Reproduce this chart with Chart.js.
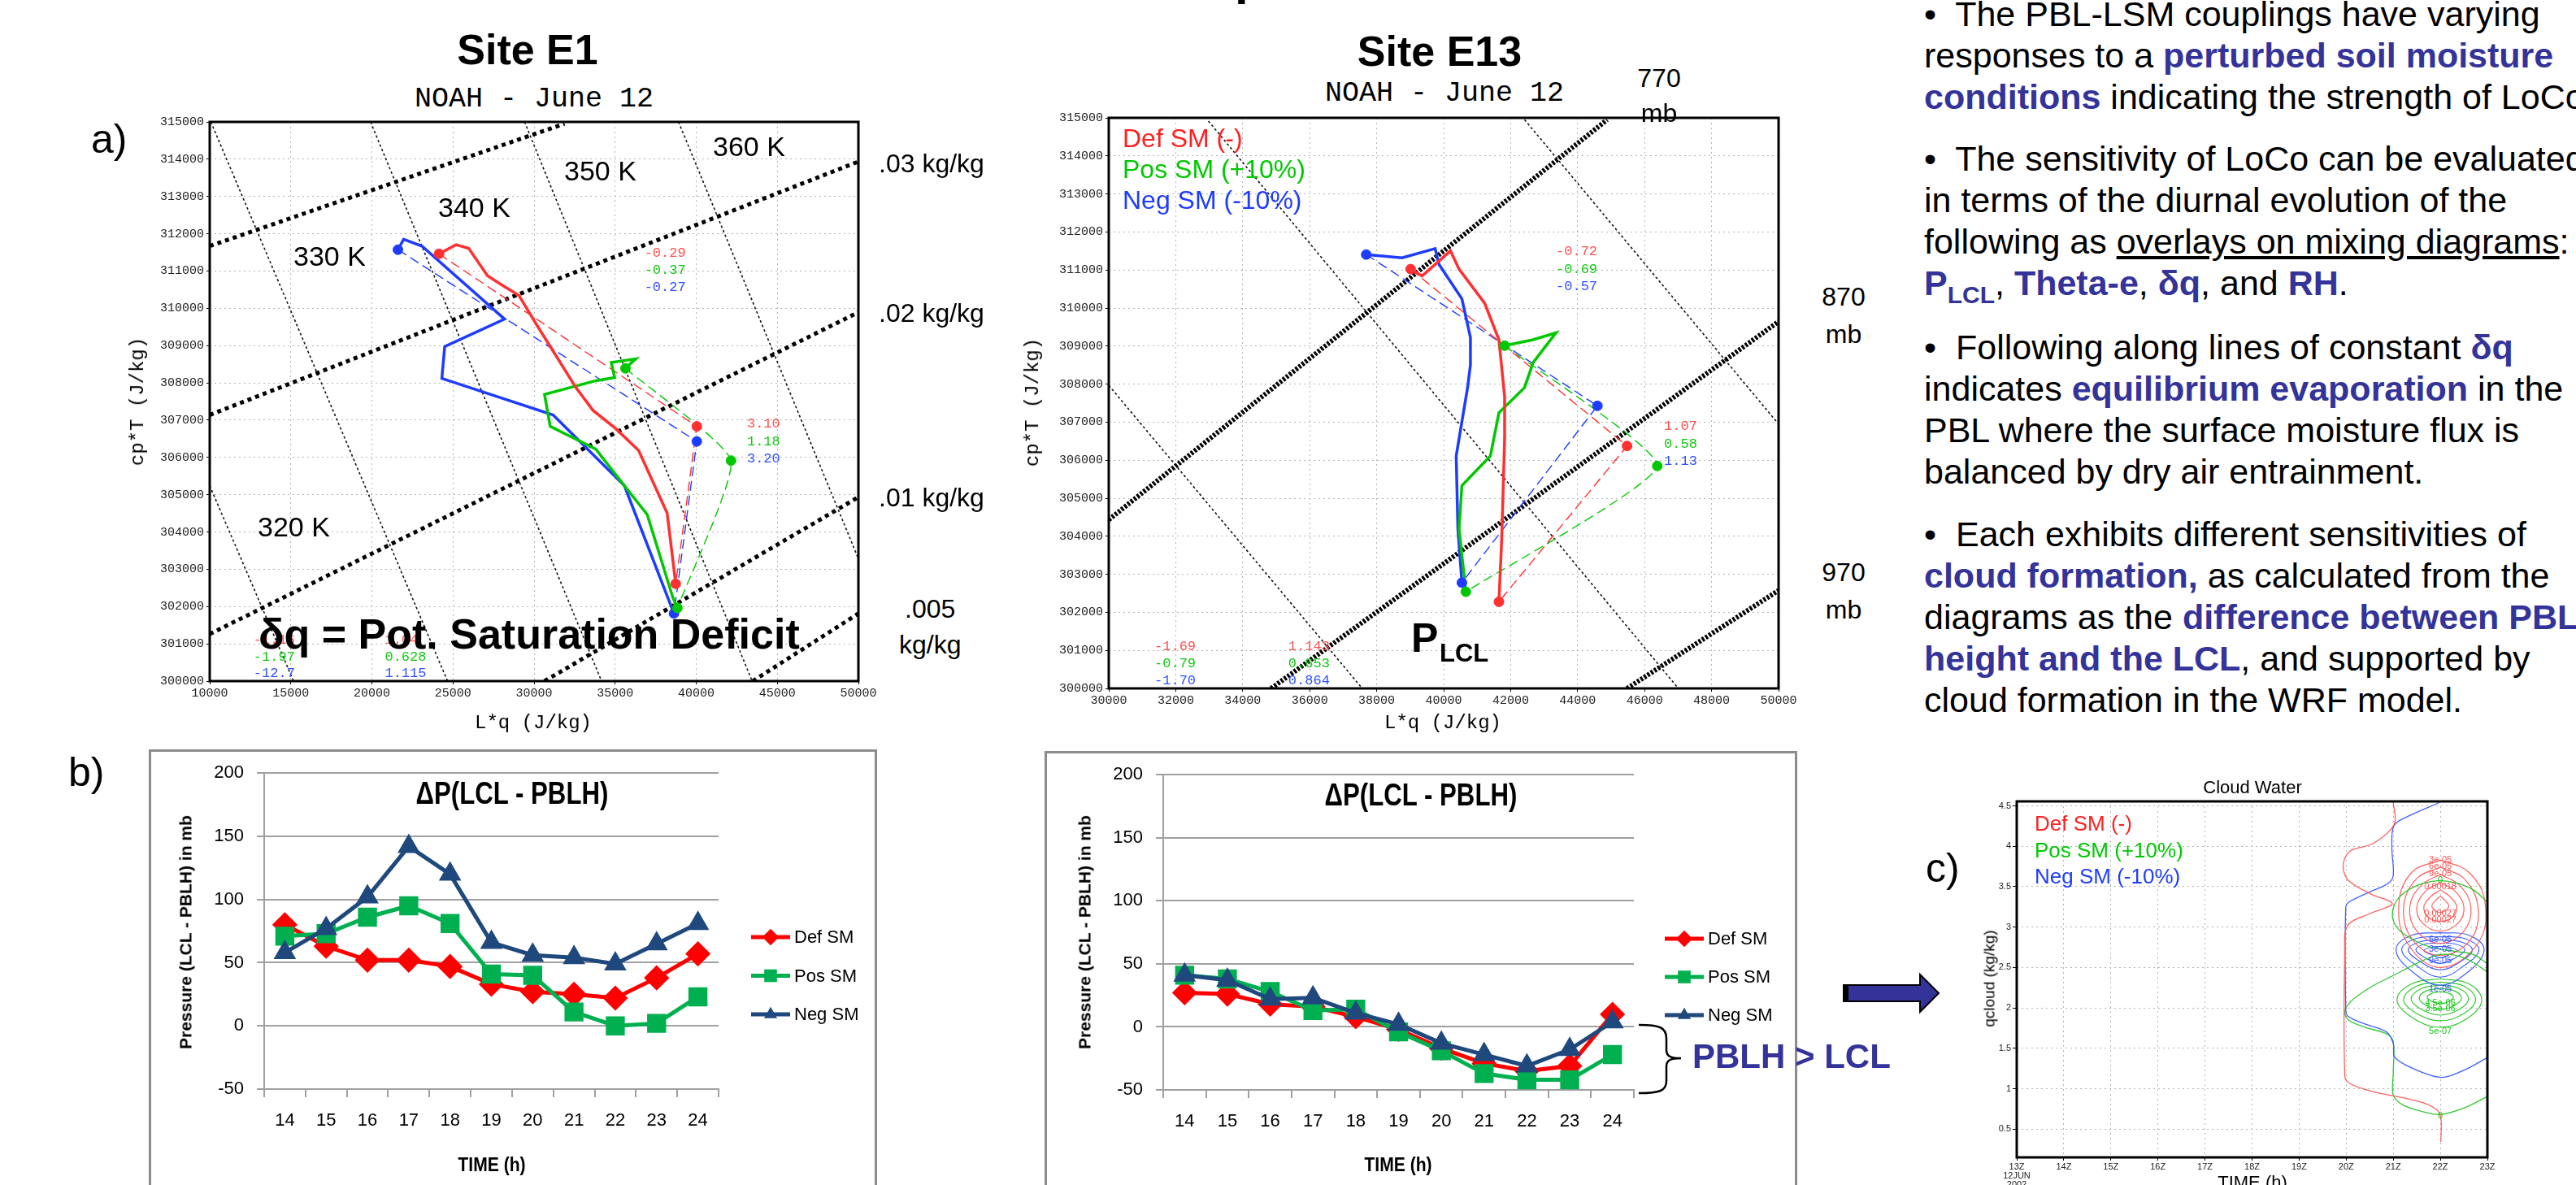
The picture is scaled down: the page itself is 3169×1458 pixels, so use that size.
<!DOCTYPE html>
<html>
<head>
<meta charset="utf-8">
<script src="https://cdn.jsdelivr.net/npm/chart.js@4.4.1/dist/chart.umd.min.js"></script>
<style>
html, body { margin: 0; padding: 0; background: #fff; }
#slide { position: relative; width: 3169px; height: 1458px; overflow: hidden; font-family: "Liberation Sans", Arial, sans-serif; color: #000; }
.t { position: absolute; line-height: 1; white-space: nowrap; }
.c { transform: translateX(-50%); }
.rot { transform: translate(-50%, -50%) rotate(-90deg); }
.mono { font-family: "Liberation Mono", "DejaVu Sans Mono", monospace; }
canvas { position: absolute; }
.box { position: absolute; border: 3px solid #8c8c8c; box-sizing: border-box; }
.para { position: absolute; left: 2367px; font-size: 43px; line-height: 51px; white-space: nowrap; }
.hl { color: #333399; font-weight: bold; }
</style>
</head>
<body>
<div id="slide">
  <!-- top panel texts -->
  <div class="t" style="left:1519px;top:-57px;font-size:60px;font-weight:bold">p</div>
  <div class="t c" style="left:649px;top:35px;font-size:52px;font-weight:bold">Site E1</div>
  <div class="t c" style="left:1771px;top:37px;font-size:52px;font-weight:bold">Site E13</div>
  <div class="t c mono" style="left:657px;top:105px;font-size:35px">NOAH - June 12</div>
  <div class="t c mono" style="left:1777px;top:98px;font-size:35px">NOAH - June 12</div>
  <div class="t" style="left:112px;top:146px;font-size:50px">a)</div>
  <div class="t" style="left:84px;top:925px;font-size:50px">b)</div>
  <div class="t" style="left:2369px;top:1043px;font-size:50px">c)</div>

  <canvas id="e1" width="960" height="800" style="left:140px;top:120px"></canvas>
  <canvas id="e13" width="990" height="800" style="left:1250px;top:120px"></canvas>

  <div class="t" style="left:877px;top:163px;font-size:34px">360 K</div>
  <div class="t" style="left:694px;top:193px;font-size:34px">350 K</div>
  <div class="t" style="left:539px;top:238px;font-size:34px">340 K</div>
  <div class="t" style="left:361px;top:298px;font-size:34px">330 K</div>
  <div class="t" style="left:317px;top:631px;font-size:34px">320 K</div>
  <div class="t" style="left:1081px;top:185px;font-size:32px">.03 kg/kg</div>
  <div class="t" style="left:1081px;top:369px;font-size:32px">.02 kg/kg</div>
  <div class="t" style="left:1081px;top:596px;font-size:32px">.01 kg/kg</div>
  <div class="t" style="left:1113px;top:733px;font-size:32px">.005</div>
  <div class="t" style="left:1106px;top:777px;font-size:32px">kg/kg</div>
  <div class="t" style="left:318px;top:754px;font-size:52px;font-weight:bold">&delta;q = Pot. Saturation Deficit</div>
  <div class="t mono rot" style="left:170px;top:494px;font-size:24px">cp*T (J/kg)</div>
  <div class="t mono rot" style="left:1271px;top:495px;font-size:24px">cp*T (J/kg)</div>
  <div class="t mono c" style="left:656px;top:878px;font-size:24px">L*q (J/kg)</div>
  <div class="t mono c" style="left:1775px;top:878px;font-size:24px">L*q (J/kg)</div>

  <div class="t c" style="left:2041px;top:80px;font-size:32px">770</div>
  <div class="t c" style="left:2041px;top:123px;font-size:32px">mb</div>
  <div class="t c" style="left:2268px;top:349px;font-size:32px">870</div>
  <div class="t c" style="left:2268px;top:395px;font-size:32px">mb</div>
  <div class="t c" style="left:2268px;top:688px;font-size:32px">970</div>
  <div class="t c" style="left:2268px;top:734px;font-size:32px">mb</div>
  <div class="t" style="left:1381px;top:154px;font-size:32px;color:#ff2020">Def SM (-)</div>
  <div class="t" style="left:1381px;top:192px;font-size:32px;color:#00c800">Pos SM (+10%)</div>
  <div class="t" style="left:1381px;top:230px;font-size:32px;color:#1e3cff">Neg SM (-10%)</div>
  <div class="t" style="left:1736px;top:760px;font-size:50px;font-weight:bold">P</div>
  <div class="t" style="left:1771px;top:788px;font-size:31px;font-weight:bold">LCL</div>

  <!-- bullet text -->
  <div class="para" style="top:-8px">&bull;&nbsp; The PBL-LSM couplings have varying<br>responses to a <span class="hl">perturbed soil moisture</span><br><span class="hl">conditions</span> indicating the strength of LoCo</div>
  <div class="para" style="top:170px">&bull;&nbsp; The sensitivity of LoCo can be evaluated<br>in terms of the diurnal evolution of the<br>following as <u>overlays on mixing diagrams</u>:<br><span class="hl">P<sub style="font-size:30px">LCL</sub></span>, <span class="hl">Theta-e</span>, <span class="hl">&delta;q</span>, and <span class="hl">RH</span>.</div>
  <div class="para" style="top:402px">&bull;&nbsp; Following along lines of constant <span class="hl">&delta;q</span><br>indicates <span class="hl">equilibrium evaporation</span> in the<br>PBL where the surface moisture flux is<br>balanced by dry air entrainment.</div>
  <div class="para" style="top:632px">&bull;&nbsp; Each exhibits different sensitivities of<br><span class="hl">cloud formation,</span> as calculated from the<br>diagrams as the <span class="hl">difference between PBL</span><br><span class="hl">height and the LCL</span>, and supported by<br>cloud formation in the WRF model.</div>

  <!-- bottom panels -->
  <div class="box" style="left:183px;top:922px;width:896px;height:560px"></div>
  <div class="box" style="left:1285px;top:924px;width:926px;height:560px"></div>
  <canvas id="dp1" width="896" height="536" style="left:183px;top:922px"></canvas>
  <canvas id="dp2" width="926" height="534" style="left:1285px;top:924px"></canvas>
  <div class="t c" style="left:630px;top:956px;font-size:39px;font-weight:bold;transform:translateX(-50%) scaleX(0.8)">&Delta;P(LCL - PBLH)</div>
  <div class="t c" style="left:1748px;top:958px;font-size:39px;font-weight:bold;transform:translateX(-50%) scaleX(0.8)">&Delta;P(LCL - PBLH)</div>
  <div class="t" style="left:605px;top:1421px;font-size:24px;font-weight:bold;transform:translateX(-50%) scaleX(0.88)">TIME (h)</div>
  <div class="t" style="left:1720px;top:1421px;font-size:24px;font-weight:bold;transform:translateX(-50%) scaleX(0.88)">TIME (h)</div>
  <div class="t rot" style="left:228px;top:1147px;font-size:21px;font-weight:bold">Pressure (LCL - PBLH) in mb</div>
  <div class="t rot" style="left:1334px;top:1147px;font-size:21px;font-weight:bold">Pressure (LCL - PBLH) in mb</div>
  <svg style="position:absolute;left:2012px;top:1258px" width="60" height="92">
    <path d="M4 3 C30 3 38 6 38 20 L38 34 C38 42 44 44 56 44 C44 44 38 46 38 54 L38 72 C38 84 30 87 4 87" fill="none" stroke="#000" stroke-width="2.5"/>
  </svg>
  <div class="t" style="left:2082px;top:1279px;font-size:42px;font-weight:bold;color:#333399">PBLH &gt; LCL</div>
  <svg style="position:absolute;left:2262px;top:1195px" width="126" height="54">
    <polygon points="6,17 100,17 100,4 123,27 100,50 100,37 6,37" fill="#333399" stroke="#000" stroke-width="2"/>
    <rect x="6" y="17" width="6" height="20" fill="#000"/>
  </svg>

  <canvas id="cw" width="769" height="518" style="left:2400px;top:940px"></canvas>
  <div class="t c" style="left:2771px;top:958px;font-size:22px">Cloud Water</div>
  <div class="t rot" style="left:2447px;top:1204px;font-size:19px">qcloud  (kg/kg)</div>
  <div class="t c" style="left:2771px;top:1444px;font-size:22px">TIME (h)</div>
  <div class="t" style="left:2503px;top:1000px;font-size:26px;color:#ff2020">Def SM (-)</div>
  <div class="t" style="left:2503px;top:1033px;font-size:26px;color:#00c800">Pos SM (+10%)</div>
  <div class="t" style="left:2503px;top:1065px;font-size:26px;color:#1e3cff">Neg SM (-10%)</div>
</div>

<script>
// ---- mixing diagram, site E1 : [L*q, cp*T] in J/kg
const e1DefPath = [[24140,311461],[25195,311706],[25968,311608],[27128,310874],[28007,310629],[29062,310347],[30117,309588],[31348,308731],[32579,307874],[33634,307262],[35041,306772],[36448,306184],[38206,304507],[38734,302609]];
const e1DefDash = [[24140,311461],[40035,306833],[38734,302609]];
const e1PosPath = [[38839,301960],[38558,302242],[36975,304470],[35569,305242],[33810,306221],[30996,306833],[30645,307690],[33810,308058],[34971,308143],[34760,308547],[36272,308645],[35675,308413]];
const e1PosDash = [[35639,308388],[42145,305915],[38839,301960]];
const e1NegPath = [[38628,301813],[35569,305242],[31172,307139],[24314,308119],[24490,308976],[28183,309711],[23083,311670],[21958,311853],[21606,311572]];
const e1NegDash = [[21606,311572],[40035,306429],[38628,301813]];
const e1MixLines = [[[10000,311670],[31878,314951]],[[10000,307139],[50000,313935]],[[10000,301262],[50000,309894]],[[30647,300000],[50000,304935]],[[43486,300000],[50000,301812]]];
const e1ThetaLines = [[[10000,305241],[15170,300000]],[[10070,315000],[24665,300000]],[[19918,315000],[34162,300000]],[[29414,315000],[43447,300000]],[[38910,315000],[50000,303283]]];
const e1Notes = [
  { x: 36800, y: 311480, text: '-0.29', color: 'red' }, { x: 36800, y: 311020, text: '-0.37', color: 'green' }, { x: 36800, y: 310560, text: '-0.27', color: 'blue' },
  { x: 43130, y: 306890, text: '3.10', color: 'red' }, { x: 43130, y: 306430, text: '1.18', color: 'green' }, { x: 43130, y: 305970, text: '3.20', color: 'blue' },
  { x: 12700, y: 301110, text: '-1.16', color: 'red' }, { x: 12700, y: 300650, text: '-1.97', color: 'green' }, { x: 12700, y: 300200, text: '-12.7', color: 'blue' },
  { x: 20800, y: 301110, text: '1.04', color: 'red' }, { x: 20800, y: 300650, text: '0.628', color: 'green' }, { x: 20800, y: 300200, text: '1.115', color: 'blue' }];

// ---- mixing diagram, site E13
const e13DefPath = [[39014,311023],[39354,310843],[40204,311502],[40459,311023],[41225,310124],[41650,309166],[41820,307668],[41820,306590],[41735,303954],[41650,302277]];
const e13DefDash = [[39014,311023],[45476,306374],[41650,302277]];
const e13PosPath = [[41820,309010],[42670,309166],[43351,309346],[42670,308567],[42415,307908],[41650,307249],[41395,306111],[40544,305332],[40459,304194],[40663,302541]];
const e13PosDash = [[41820,309010],[46378,305847],[40663,302541]];
const e13NegPath = [[37687,311406],[38759,311322],[39745,311562],[39864,311142],[40544,310244],[40799,309226],[40799,308507],[40714,307908],[40374,306111],[40425,304194],[40544,302780]];
const e13NegDash = [[37687,311406],[44592,307429],[40544,302780]];
const e13PresLines = [[[30000,304434],[44881,314952]],[[34847,300000],[50000,309645]],[[45476,300000],[50000,302577]]];
const e13ThetaLines = [[[30000,307968],[37568,300000]],[[32976,314916],[47007,300000]],[[42415,314952],[50000,306949]]];
const e13Notes = [
  { x: 43350, y: 311480, text: '-0.72', color: 'red' }, { x: 43350, y: 311020, text: '-0.69', color: 'green' }, { x: 43350, y: 310560, text: '-0.57', color: 'blue' },
  { x: 46580, y: 306890, text: '1.07', color: 'red' }, { x: 46580, y: 306430, text: '0.58', color: 'green' }, { x: 46580, y: 305970, text: '1.13', color: 'blue' },
  { x: 31360, y: 301110, text: '-1.69', color: 'red' }, { x: 31360, y: 300650, text: '-0.79', color: 'green' }, { x: 31360, y: 300200, text: '-1.70', color: 'blue' },
  { x: 35360, y: 301110, text: '1.143', color: 'red' }, { x: 35360, y: 300650, text: '0.653', color: 'green' }, { x: 35360, y: 300200, text: '0.864', color: 'blue' }];

// ---- delta P (LCL - PBLH), mb
const hours = ['14', '15', '16', '17', '18', '19', '20', '21', '22', '23', '24'];
const e1Def = [80, 63, 52, 52, 47, 33, 27, 25, 22, 38, 57];
const e1Pos = [71, 73, 86, 95, 81, 41, 40, 11, 0, 2, 23];
const e1Neg = [58, 77, 102, 142, 120, 66, 56, 54, 49, 65, 81];
const e13Def = [27, 26, 18, 16, 8, -2, -17, -29, -35, -31, 10];
const e13Pos = [41, 38, 28, 13, 14, -4, -19, -37, -42, -42, -22];
const e13Neg = [41, 37, 22, 23, 11, 2, -13, -22, -31, -18, 4];

// ---- cloud water contours: [hour (Z), level]
const cwXTicks = [13, 14, 15, 16, 17, 18, 19, 20, 21, 22, 23];
const cwYTicks = [0.5, 1, 1.5, 2, 2.5, 3, 3.5, 4, 4.5];
const cwDefZero = [[21.0,4.55],[21.02,4.27],[20.59,4.04],[20.11,3.95],[19.97,3.85],[19.94,3.71],[20.06,3.57],[20.52,3.41],[20.98,3.29],[20.52,3.17],[20.03,3.02],[19.97,2.73],[19.97,1.16],[20.06,1.07],[20.52,0.97],[21.55,0.84],[21.9,0.75],[22.01,0.65],[22.01,0.34]];
const cwNegZero = [[21.98,4.54],[21.35,4.38],[21.02,4.26],[20.97,3.99],[21.0,3.64],[20.89,3.54],[20.52,3.44],[20.06,3.31],[19.99,3.24],[19.99,2.0],[20.03,1.9],[20.4,1.8],[20.86,1.7],[21.0,1.56],[21.03,1.39],[21.38,1.26],[22.01,1.14],[22.47,1.22],[22.99,1.38]];
const cwPosUpper = [[22.99,3.31],[22.7,3.46],[22.3,3.55],[21.9,3.57],[21.45,3.5],[21.1,3.35],[20.98,3.15],[21.1,2.98],[21.4,2.85],[21.8,2.75],[22.3,2.7],[22.7,2.66],[22.99,2.55]];
const cwPosLower = [[22.99,2.45],[22.5,2.62],[22.0,2.66],[21.5,2.55],[21.0,2.4],[20.5,2.25],[20.1,2.08],[19.97,1.95],[20.05,1.85],[20.4,1.76],[20.85,1.68],[21.0,1.58],[21.0,1.2],[21.0,0.92],[21.2,0.8],[21.6,0.72],[22.0,0.68],[22.5,0.76],[22.99,0.9]];
const cwDefRings = [
  [[22.0,3.83],[22.6,3.68],[22.95,3.3],[22.8,2.8],[22.0,2.5],[21.3,2.8],[21.12,3.3],[21.4,3.68],[22.0,3.83]],
  [[22.0,3.74],[22.5,3.6],[22.8,3.25],[22.65,2.85],[22.0,2.65],[21.4,2.85],[21.22,3.25],[21.5,3.6],[22.0,3.74]],
  [[22.0,3.65],[22.4,3.52],[22.65,3.25],[22.5,2.95],[22.0,2.8],[21.5,2.95],[21.35,3.25],[21.6,3.52],[22.0,3.65]],
  [[22.0,3.55],[22.3,3.45],[22.5,3.25],[22.38,3.05],[22.0,2.95],[21.62,3.05],[21.5,3.25],[21.7,3.45],[22.0,3.55]],
  [[22.0,3.46],[22.2,3.38],[22.35,3.25],[22.25,3.12],[22.0,3.07],[21.75,3.12],[21.65,3.25],[21.8,3.38],[22.0,3.46]],
  [[22.0,3.38],[22.1,3.33],[22.18,3.26],[22.1,3.2],[22.0,3.18],[21.9,3.2],[21.82,3.26],[21.9,3.33],[22.0,3.38]]];
const cwNegRings = [
  [[22.0,2.93],[22.6,2.9],[22.93,2.72],[22.6,2.45],[22.0,2.28],[21.4,2.45],[21.06,2.72],[21.4,2.9],[22.0,2.93]],
  [[22.0,2.88],[22.5,2.86],[22.82,2.72],[22.5,2.52],[22.0,2.38],[21.5,2.52],[21.18,2.72],[21.5,2.86],[22.0,2.88]],
  [[22.0,2.84],[22.42,2.82],[22.68,2.72],[22.42,2.57],[22.0,2.47],[21.58,2.57],[21.32,2.72],[21.58,2.82],[22.0,2.84]],
  [[22.0,2.8],[22.32,2.79],[22.52,2.72],[22.32,2.62],[22.0,2.55],[21.68,2.62],[21.48,2.72],[21.68,2.79],[22.0,2.8]],
  [[22.0,2.76],[22.2,2.75],[22.35,2.71],[22.2,2.66],[22.0,2.62],[21.8,2.66],[21.65,2.71],[21.8,2.75],[22.0,2.76]]];
const cwPosRings = [
  [[22.0,2.36],[22.6,2.3],[22.88,2.1],[22.6,1.88],[22.0,1.76],[21.4,1.88],[21.08,2.1],[21.4,2.3],[22.0,2.36]],
  [[22.0,2.32],[22.5,2.27],[22.75,2.1],[22.5,1.93],[22.0,1.84],[21.5,1.93],[21.22,2.1],[21.5,2.27],[22.0,2.32]],
  [[22.0,2.28],[22.4,2.24],[22.6,2.11],[22.4,1.98],[22.0,1.91],[21.6,1.98],[21.38,2.11],[21.6,2.24],[22.0,2.28]],
  [[22.0,2.24],[22.3,2.21],[22.45,2.12],[22.3,2.03],[22.0,1.98],[21.7,2.03],[21.55,2.12],[21.7,2.21],[22.0,2.24]],
  [[22.0,2.2],[22.18,2.18],[22.28,2.13],[22.18,2.08],[22.0,2.05],[21.82,2.08],[21.72,2.13],[21.82,2.18],[22.0,2.2]]];
const cwNotes = [
  { x: 22, y: 3.83, text: '3e-05', color: 'red' }, { x: 22, y: 3.75, text: '6e-05', color: 'red' }, { x: 22, y: 3.66, text: '9e-05', color: 'red' },
  { x: 22, y: 3.5, text: '0.00018', color: 'red' }, { x: 22, y: 3.17, text: '0.00027', color: 'red' }, { x: 22, y: 3.09, text: '0.00027', color: 'red' },
  { x: 22, y: 3.58, text: '0', color: 'green' },
  { x: 22, y: 2.85, text: '6e-05', color: 'blue' }, { x: 22, y: 2.72, text: '3e-05', color: 'blue' }, { x: 22, y: 2.58, text: '9e-05', color: 'blue' },
  { x: 22, y: 2.23, text: '1e-05', color: 'blue' }, { x: 22, y: 2.06, text: '4.5e-06', color: 'green' }, { x: 22, y: 1.99, text: '3.5e-06', color: 'green' },
  { x: 22, y: 1.71, text: '5e-07', color: 'green' }, { x: 22, y: 0.66, text: '0', color: 'green' }];

const G = { red: '#ff3030', green: '#00c800', blue: '#1e3cff' };
const NOTE = { red: '#ff5050', green: '#10c810', blue: '#3050ff' };
const MONO = '"Liberation Mono", "DejaVu Sans Mono", monospace';

// draws a black frame round the plot area (GrADS style)
const frame = {
  id: 'frame',
  afterDraw(chart, args, o) {
    const { ctx, chartArea: a } = chart;
    ctx.save();
    ctx.strokeStyle = '#000';
    ctx.lineWidth = o.width || 3;
    ctx.strokeRect(a.left, a.top, a.width, a.height);
    ctx.restore();
  }
};

// small value labels placed in data space
const notes = {
  id: 'notes',
  afterDatasetsDraw(chart, args, o) {
    const { ctx, scales: { x, y } } = chart;
    ctx.save();
    ctx.font = o.font;
    ctx.textAlign = o.align || 'left';
    ctx.textBaseline = 'middle';
    for (const n of o.items) {
      ctx.fillStyle = NOTE[n.color];
      ctx.fillText(n.text, x.getPixelForValue(n.x), y.getPixelForValue(n.y));
    }
    ctx.restore();
  }
};

// Excel-like legend to the right of the plot: line + marker + name
const sideLegend = {
  id: 'sideLegend',
  afterDraw(chart, args, o) {
    const ctx = chart.ctx;
    ctx.save();
    ctx.font = '22px "Liberation Sans", Arial';
    ctx.textBaseline = 'middle';
    chart.data.datasets.forEach((ds, i) => {
      const yy = o.y + i * o.gap;
      ctx.strokeStyle = ds.borderColor;
      ctx.lineWidth = 5;
      ctx.beginPath(); ctx.moveTo(o.x, yy); ctx.lineTo(o.x + 48, yy); ctx.stroke();
      ctx.fillStyle = ds.backgroundColor;
      Chart.helpers.drawPoint(ctx, { pointStyle: ds.pointStyle, radius: ds.pointRadius * 0.85, borderWidth: 0, rotation: 0 }, o.x + 24, yy);
      ctx.fillStyle = '#000';
      ctx.fillText(ds.label, o.x + 53, yy + 1);
    });
    ctx.restore();
  }
};

const line = (data, color, width, dash, tension = 0) =>
  ({ data, borderColor: color, borderWidth: width, borderDash: dash, showLine: true, pointRadius: 0, tension, fill: false });
const dots = (data, color) => ({ data, backgroundColor: color, borderColor: color, pointRadius: 6, showLine: false });

function mixSets(p, bg) {
  return [
    dots(p.defDash, G.red), dots(p.posDash, G.green), dots(p.negDash, G.blue),
    line(p.defPath, G.red, 3.5, []), line(p.posPath, G.green, 3.5, []), line(p.negPath, G.blue, 3.5, []),
    line(p.defDash, G.red, 1.4, [12, 6]), line(p.posDash, G.green, 1.4, [12, 6], 0.15), line(p.negDash, G.blue, 1.4, [12, 6]),
    ...bg
  ];
}

function gradsAxes(xMin, xMax, xStep, yw, xh) {
  const tick = { color: '#222', font: { family: MONO, size: 15 }, autoSkip: false, maxRotation: 0, callback: (v) => String(v) };
  return {
    x: { type: 'linear', min: xMin, max: xMax,
      ticks: Object.assign({ stepSize: xStep, padding: 2 }, tick),
      grid: { color: '#b4b4b4', tickLength: 4, tickColor: '#000' },
      border: { display: false, dash: [2, 4] },
      afterFit: (s) => { s.height = xh; } },
    y: { type: 'linear', min: 300000, max: 315000,
      ticks: Object.assign({ stepSize: 1000, padding: 3 }, tick),
      grid: { color: '#b4b4b4', tickLength: 4, tickColor: '#000' },
      border: { display: false, dash: [2, 4] },
      afterFit: (s) => { s.width = yw; } }
  };
}

function mixChart(id, p, bg, axes, pad, items) {
  new Chart(document.getElementById(id), {
    type: 'scatter',
    data: { datasets: mixSets(p, bg) },
    options: {
      responsive: false, animation: false,
      layout: { padding: { top: pad[0], right: pad[1], left: 0, bottom: 0 } },
      plugins: { legend: { display: false }, tooltip: { enabled: false }, frame: { width: 3 },
        notes: { font: '17px ' + MONO, items } },
      scales: axes
    },
    plugins: [frame, notes]
  });
}

mixChart('e1',
  { defPath: e1DefPath, defDash: e1DefDash, posPath: e1PosPath, posDash: e1PosDash, negPath: e1NegPath, negDash: e1NegDash },
  [...e1MixLines.map((l) => line(l, '#000', 5, [5, 5])), ...e1ThetaLines.map((l) => line(l, '#111', 1.6, [3, 3]))],
  gradsAxes(10000, 50000, 5000, 118, 82), [30, 44], e1Notes);

mixChart('e13',
  { defPath: e13DefPath, defDash: e13DefDash, posPath: e13PosPath, posDash: e13PosDash, negPath: e13NegPath, negDash: e13NegDash },
  [...e13PresLines.map((l) => line(l, '#000', 6, [3, 2])), ...e13ThetaLines.map((l) => line(l, '#111', 1.6, [3, 3]))],
  gradsAxes(30000, 50000, 2000, 114, 73), [25, 52], e13Notes);

// ---- delta P line charts
function dpChart(id, def, pos, neg, yw, xh, pad, leg) {
  const tickFont = { family: '"Liberation Sans", Arial', size: 22 };
  new Chart(document.getElementById(id), {
    type: 'line',
    data: { labels: hours, datasets: [
      { label: 'Def SM', data: def, borderColor: '#ff0000', backgroundColor: '#ff0000', borderWidth: 5, pointStyle: 'rectRot', pointRadius: 12, order: 2 },
      { label: 'Pos SM', data: pos, borderColor: '#00b050', backgroundColor: '#00b050', borderWidth: 5, pointStyle: 'rect', pointRadius: 13, order: 1 },
      { label: 'Neg SM', data: neg, borderColor: '#1f497d', backgroundColor: '#1f497d', borderWidth: 5, pointStyle: 'triangle', pointRadius: 11, order: 0 }] },
    options: {
      responsive: false, animation: false,
      layout: { padding: { top: pad[0], right: pad[1], left: 0, bottom: 0 } },
      plugins: { legend: { display: false }, tooltip: { enabled: false }, sideLegend: leg },
      scales: {
        x: { offset: true,
          grid: { offset: true, drawOnChartArea: false, tickLength: 10, color: '#a0a0a0', lineWidth: 2 },
          border: { color: '#a0a0a0', width: 2 },
          ticks: { font: tickFont, color: '#000', padding: 16, maxRotation: 0 },
          afterFit: (s) => { s.height = xh; } },
        y: { min: -50, max: 200,
          grid: { color: '#a0a0a0', lineWidth: 2, tickLength: 9 },
          border: { color: '#a0a0a0', width: 2 },
          ticks: { stepSize: 50, font: tickFont, color: '#000', padding: 16 },
          afterFit: (s) => { s.width = yw; } }
      }
    },
    plugins: [sideLegend]
  });
}
dpChart('dp1', e1Def, e1Pos, e1Neg, 142, 118, [28.5, 195], { x: 741, y: 231, gap: 47.5 });
dpChart('dp2', e13Def, e13Pos, e13Neg, 146, 117, [29, 201], { x: 763, y: 231, gap: 47 });

// ---- cloud water contour panel
new Chart(document.getElementById('cw'), {
  type: 'scatter',
  data: { datasets: [
    line(cwDefZero, '#ff6060', 1.3, [], 0.35), line(cwNegZero, '#4060ff', 1.3, [], 0.35),
    line(cwPosUpper, '#30c830', 1.3, [], 0.35), line(cwPosLower, '#30c830', 1.3, [], 0.35),
    ...cwDefRings.map((r) => line(r, '#ff6060', 1.2, [], 0.4)),
    ...cwNegRings.map((r) => line(r, '#4060ff', 1.2, [], 0.4)),
    ...cwPosRings.map((r) => line(r, '#30c830', 1.2, [], 0.4))] },
  options: {
    responsive: false, animation: false,
    layout: { padding: { top: 46, right: 109, left: 0, bottom: 0 } },
    plugins: { legend: { display: false }, tooltip: { enabled: false }, frame: { width: 3 },
      notes: { font: '11px "Liberation Sans", Arial', align: 'center', items: cwNotes } },
    scales: {
      x: { type: 'linear', min: 13, max: 23,
        afterBuildTicks: (s) => { s.ticks = cwXTicks.map((v) => ({ value: v })); },
        ticks: { color: '#222', font: { family: '"Liberation Sans", Arial', size: 11, lineHeight: 1 }, padding: 2, maxRotation: 0, autoSkip: false,
          callback: (v, i) => (i === 0 ? [v + 'Z', '12JUN', '2002'] : v + 'Z') },
        grid: { color: '#b4b4b4', tickLength: 4, tickColor: '#000' },
        border: { display: false, dash: [2, 4] },
        afterFit: (s) => { s.height = 34; } },
      y: { type: 'linear', min: 0.15, max: 4.555,
        afterBuildTicks: (s) => { s.ticks = cwYTicks.map((v) => ({ value: v })); },
        ticks: { color: '#222', font: { family: '"Liberation Sans", Arial', size: 11 }, padding: 2, autoSkip: false, callback: (v) => String(v) },
        grid: { color: '#b4b4b4', tickLength: 5, tickColor: '#000' },
        border: { display: false, dash: [2, 4] },
        afterFit: (s) => { s.width = 81; } }
    }
  },
  plugins: [frame, notes]
});
</script>
</body>
</html>
